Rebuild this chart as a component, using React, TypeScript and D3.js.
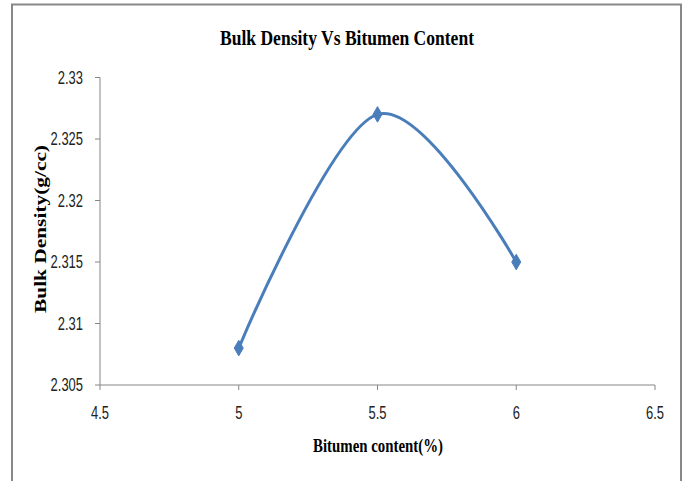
import React from "react";
import * as d3 from "d3";

const bitumenContent = [5, 5.5, 6];
const bulkDensity = [2.308, 2.327, 2.315];
const xTicks = [4.5, 5, 5.5, 6, 6.5];
const yTicks = [2.305, 2.31, 2.315, 2.32, 2.325, 2.33];
const title = "Bulk Density Vs Bitumen Content";
const xLabel = "Bitumen content(%)";
const yLabel = "Bulk Density(g/cc)";

export default function App() {
  const W = 686, H = 481;
  const x = d3.scaleLinear().domain([4.5, 6.5]).range([100, 655]);
  const y = d3.scaleLinear().domain([2.305, 2.33]).range([385, 77.5]);
  const pts: [number, number][] = bitumenContent.map((v, i) => [x(v), y(bulkDensity[i])]);
  const line = d3.line().curve(d3.curveCardinal.tension(0))(pts) || "";
  const diamond = d3.symbol().type(d3.symbolDiamond).size(70)() || "";
  const axisColor = "#868686";
  const tickFont = "'Liberation Sans', Arial, sans-serif";
  const serif = "'Liberation Serif', 'Times New Roman', serif";
  const sx = 0.72;
  return (
    <svg width={W} height={H} style={{ position: "absolute", left: 0, top: 0 }}>
      <rect x={0} y={0} width={W} height={H} fill="#fff" />
      <path d={`M12,${H} V4.5 H681 V${H}`} fill="none" stroke="#888" strokeWidth={2} />
      <text x={347} y={45} textAnchor="middle" fontFamily={serif} fontWeight="bold" fontSize={22} textLength={254} lengthAdjust="spacingAndGlyphs">{title}</text>
      {/* y axis */}
      <line x1={100} x2={100} y1={y(2.33)} y2={y(2.305)} stroke={axisColor} strokeWidth={1} />
      {yTicks.map(t => (
        <g key={t}>
          <line x1={95} x2={100} y1={y(t)} y2={y(t)} stroke={axisColor} />
          <text transform={`translate(83,${y(t)}) scale(${sx},1)`} dy="0.36em" textAnchor="end" fontFamily={tickFont} fontSize={18} fill="#222">{String(t)}</text>
        </g>
      ))}
      {/* x axis */}
      <line x1={x(4.5)} x2={x(6.5)} y1={385} y2={385} stroke={axisColor} strokeWidth={1} />
      {xTicks.map(t => (
        <g key={t}>
          <line x1={x(t)} x2={x(t)} y1={385} y2={390} stroke={axisColor} />
          <text transform={`translate(${x(t)},419) scale(${sx},1)`} textAnchor="middle" fontFamily={tickFont} fontSize={18} fill="#222">{String(t)}</text>
        </g>
      ))}
      <text x={378} y={452} textAnchor="middle" fontFamily={serif} fontWeight="bold" fontSize={18} textLength={130} lengthAdjust="spacingAndGlyphs">{xLabel}</text>
      <text transform="translate(46,229) rotate(-90)" textAnchor="middle" fontFamily={serif} fontWeight="bold" fontSize={16} textLength={168} lengthAdjust="spacingAndGlyphs">{yLabel}</text>
      <path d={line} fill="none" stroke="#4A7EBB" strokeWidth={3} />
      {pts.map((p, i) => (
        <path key={i} d={diamond} transform={`translate(${p[0]},${p[1]})`} fill="#4A7EBB" stroke="#4A7EBB" />
      ))}
    </svg>
  );
}
